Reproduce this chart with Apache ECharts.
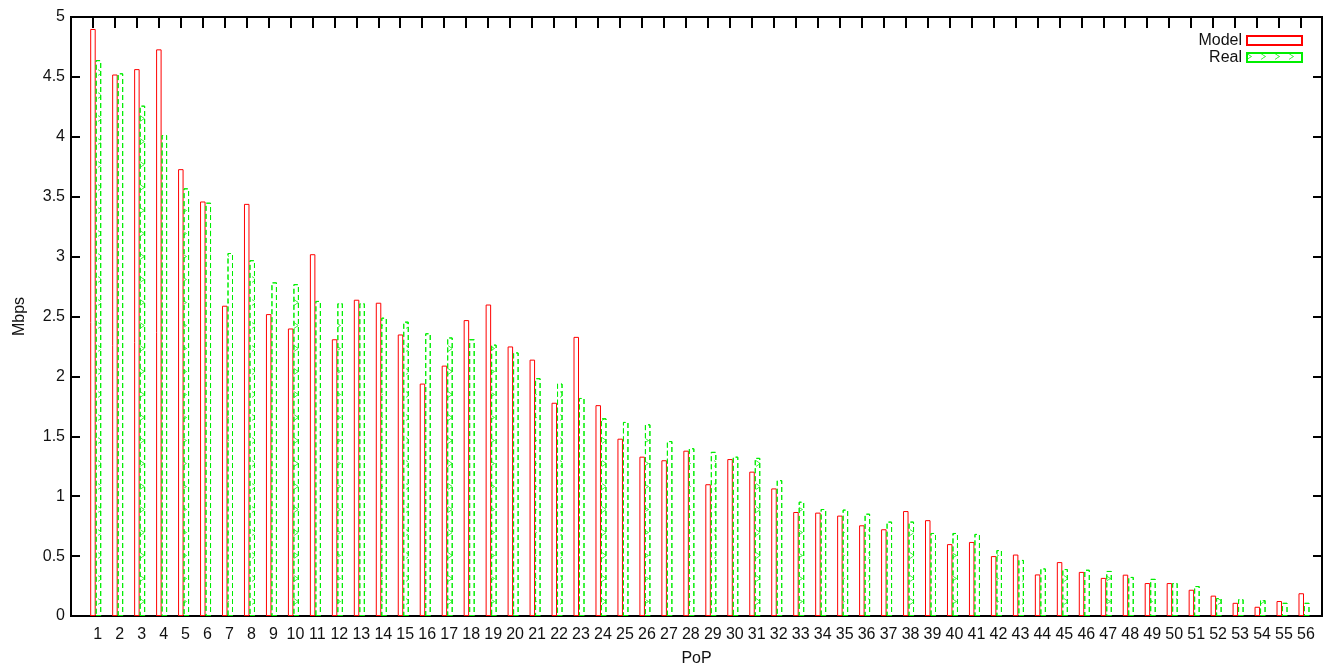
<!DOCTYPE html>
<html>
<head>
<meta charset="utf-8">
<script src="https://cdn.jsdelivr.net/npm/echarts@6/dist/echarts.min.js"></script>
<style>
  html, body { margin: 0; padding: 0; background: #fff; }
  #chart { width: 1326px; height: 672px; }
</style>
</head>
<body>
<div id="chart"></div>
<script>
// PoP identifiers along the x axis
const pops = Array.from({ length: 56 }, (_, i) => String(i + 1));

// Throughput per PoP (Mbps)
const modelValues = [
  4.90, 4.52, 4.565, 4.73, 3.73, 3.46, 2.59, 3.44, 2.52, 2.40,
  3.02, 2.31, 2.64, 2.615, 2.35, 1.94, 2.09, 2.47, 2.60, 2.25,
  2.14, 1.78, 2.33, 1.76, 1.48, 1.33, 1.30, 1.38, 1.10, 1.31,
  1.205, 1.065, 0.868, 0.863, 0.838, 0.757, 0.724, 0.876, 0.80, 0.60,
  0.618, 0.50, 0.513, 0.347, 0.45, 0.368, 0.318, 0.345, 0.275, 0.275,
  0.219, 0.17, 0.11, 0.077, 0.125, 0.19
];
const realValues = [
  4.64, 4.53, 4.26, 4.015, 3.57, 3.45, 3.03, 2.97, 2.785, 2.77,
  2.63, 2.61, 2.61, 2.49, 2.457, 2.36, 2.325, 2.31, 2.265, 2.20,
  1.985, 1.94, 1.82, 1.65, 1.62, 1.60, 1.46, 1.40, 1.37, 1.33,
  1.32, 1.134, 0.954, 0.893, 0.888, 0.854, 0.788, 0.788, 0.693, 0.693,
  0.685, 0.55, 0.468, 0.397, 0.392, 0.386, 0.376, 0.326, 0.31, 0.275,
  0.25, 0.15, 0.14, 0.133, 0.11, 0.11
];

// Y axis range (Mbps)
const yMin = 0, yMax = 5, yStep = 0.5;

const xMin = -0.124, xMax = 56.82;
const tickShift = 0.137;
const font = 'Liberation Sans, Arial, Helvetica, sans-serif';

const chart = echarts.init(document.getElementById('chart'), null, { renderer: 'canvas' });

const toPairs = vals => vals.map((v, i) => [i + 1, v]);
const hiddenLine = { show: false, onZero: false };
const tickLine = { color: '#000', width: 2 };

chart.setOption({
  animation: false,
  backgroundColor: '#fff',
  textStyle: { fontFamily: font },
  grid: {
    left: 71, right: 4, top: 17, bottom: 54,
    show: true, borderColor: '#000', borderWidth: 2, backgroundColor: 'transparent'
  },
  legend: {
    orient: 'vertical',
    right: 18, top: 27,
    align: 'right',
    icon: 'rect',
    itemWidth: 55, itemHeight: 9,
    itemGap: 0,
    textStyle: { fontFamily: font, fontSize: 16, color: '#111', lineHeight: 17 },
    data: ['Model', 'Real']
  },
  xAxis: [
    {
      type: 'value', min: xMin, max: xMax,
      name: 'PoP', nameLocation: 'middle', nameGap: 35,
      nameTextStyle: { fontFamily: font, fontSize: 16, color: '#111' },
      axisLine: hiddenLine,
      axisTick: { show: false },
      splitLine: { show: false },
      axisLabel: {
        customValues: pops.map((_, i) => i + 1),
        formatter: v => pops[Math.round(v) - 1] || '',
        fontFamily: font, fontSize: 16, color: '#111', margin: 11,
        padding: [0, 0, 0, 4]
      }
    },
    {
      type: 'value', min: xMin, max: xMax, position: 'top',
      axisLine: hiddenLine,
      splitLine: { show: false },
      axisLabel: { show: false },
      axisTick: {
        show: true, inside: true, length: 11, lineStyle: tickLine,
        customValues: pops.map((_, i) => i + 1 - tickShift)
      }
    }
  ],
  yAxis: [
    {
      type: 'value', min: yMin, max: yMax, interval: yStep,
      name: 'Mbps', nameLocation: 'middle', nameGap: 43, nameRotate: 90,
      nameTextStyle: { fontFamily: font, fontSize: 16, color: '#111' },
      axisLine: hiddenLine,
      splitLine: { show: false },
      axisTick: { show: true, inside: true, length: 9, lineStyle: tickLine },
      axisLabel: { fontFamily: font, fontSize: 16, color: '#111', margin: 6 }
    },
    {
      type: 'value', min: yMin, max: yMax, interval: yStep, position: 'right',
      axisLine: hiddenLine,
      splitLine: { show: false },
      axisLabel: { show: false },
      axisTick: { show: true, inside: true, length: 9, lineStyle: tickLine }
    }
  ],
  series: [
    {
      name: 'Model', type: 'bar',
      data: toPairs(modelValues),
      barWidth: 5.5, barGap: '0%',
      itemStyle: { color: '#ffffff', borderColor: '#ff0000', borderWidth: 1 }
    },
    {
      name: 'Real', type: 'bar',
      data: toPairs(realValues),
      barWidth: 5.5, barGap: '0%',
      itemStyle: {
        color: '#ffffff', borderColor: '#00ee00', borderWidth: 1, borderType: [5, 3],
        decal: {
          color: '#00ee00',
          symbol: 'path://M0 0L9 6L0 12L0 10.6L7 6L0 1.4Z',
          symbolSize: 1,
          dashArrayX: [5, 9],
          dashArrayY: [7, 16],
          rotation: 0
        }
      }
    }
  ]
});
</script>
</body>
</html>
